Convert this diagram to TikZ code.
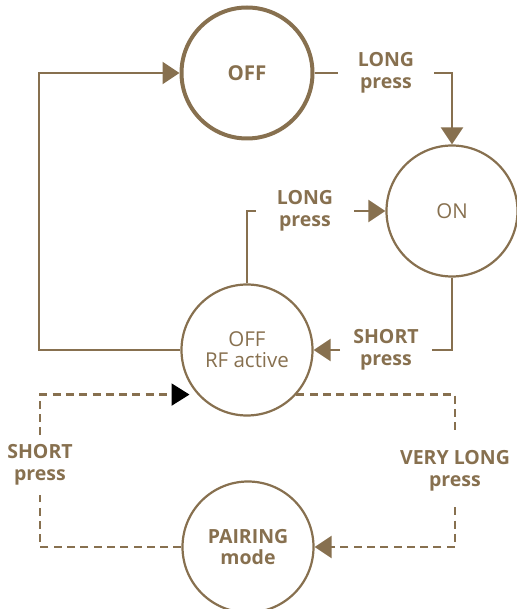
\documentclass[tikz,border=0pt]{standalone}
\usepackage{fontspec}
\setmainfont{Open Sans}
\usetikzlibrary{arrows.meta}
\definecolor{brownish}{RGB}{135,112,79}
\tikzset{
  state/.style={draw=brownish, line width=2.2pt, circle, minimum size=131pt, inner sep=0pt,
    text=brownish, font=\fontsize{20.5}{21}\selectfont, align=center},
  presslabel/.style={text=brownish, font=\fontsize{19.5}{21.5}\selectfont\bfseries, align=center, inner ysep=0pt},
  link/.style={draw=brownish, line width=2.2pt},
  dashlink/.style={link, dash pattern=on 8pt off 5.3pt},
  tip/.style={-{Triangle[length=17pt,width=22pt]}},
}
\begin{document}
\begin{tikzpicture}[x=1pt,y=-1pt]
  \useasboundingbox (0,0) rectangle (516,609);
  % states
  \node[state, line width=4pt, font=\fontsize{20.5}{21}\selectfont\bfseries] (off) at (247,73) {OFF};
  \node[state] (on) at (452,211) {ON};
  \node[state] (rf) at (247,350) {OFF\\RF active};
  \node[state, font=\fontsize{19.5}{21.5}\selectfont\bfseries] (pairing) at (248,547) {PAIRING\\mode};
  % labels
  \node[presslabel, inner xsep=20pt] (longa) at (386,73) {LONG\\press};
  \node[presslabel, inner xsep=21pt] (longb) at (305,211) {LONG\\press};
  \node[presslabel, inner xsep=13pt] (shorta) at (386,350) {SHORT\\press};
  \node[presslabel, inner ysep=9.5pt] (shortb) at (40,465) {SHORT\\press};
  \node[presslabel, inner ysep=16pt] (verylong) at (455,471) {VERY LONG\\press};
  \coordinate (corner) at (39,350);
  % connectors
  \draw[link] (off.east) -- (longa.west);
  \draw[link, tip] (longa.east) -| (on.north);
  \draw[link] (rf.north) |- (longb.west);
  \draw[link, tip] (longb.east) -- (on.west);
  \draw[link] (on.south) |- (shorta.east);
  \draw[link, tip] (shorta.west) -- (rf.east);
  \draw[link, tip] (rf.west) -- (corner) |- (off.west);
  \draw[dashlink] (rf.-42) -| (verylong.north);
  \draw[dashlink, tip] (verylong.south) |- (pairing.east);
  \draw[dashlink] (pairing.west) -| (shortb.south);
  \draw[dashlink, -{Triangle[length=18pt,width=22pt,black]}, shorten >=8pt] (shortb.north) |- (rf.-138);
\end{tikzpicture}
\end{document}
